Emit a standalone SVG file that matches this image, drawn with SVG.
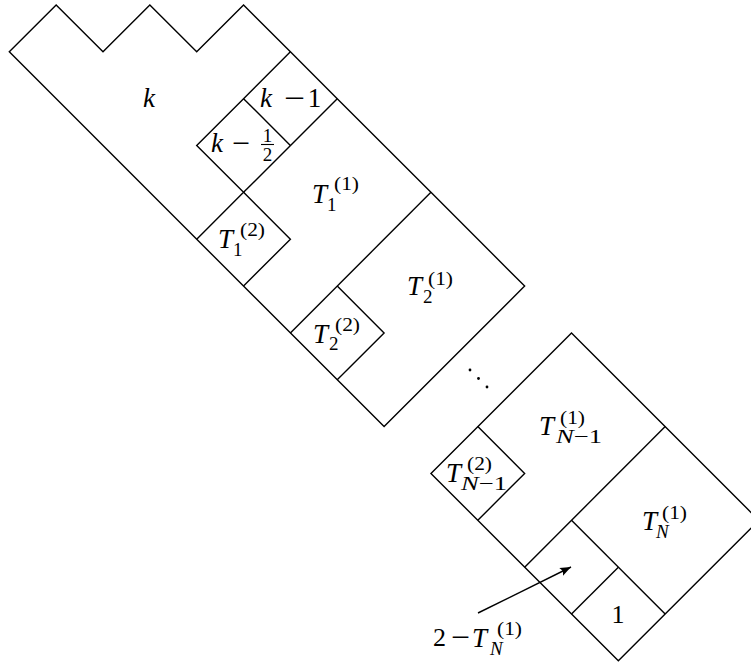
<svg xmlns="http://www.w3.org/2000/svg" width="751" height="665" viewBox="0 0 751 665">
<style>
.ln{fill:none;stroke:#000;stroke-width:1.4;stroke-linejoin:miter}
</style>
<defs>
<marker id="ah" markerUnits="userSpaceOnUse" markerWidth="14" markerHeight="12" viewBox="-12 -6 14 12" refX="0" refY="0" orient="auto">
<path d="M0,0 L-11,-4.2 Q-8,0 -11,4.2 Z" fill="#000"/>
</marker>
</defs>
<rect width="751" height="665" fill="#fff"/>
<g id="block1">
<path class="ln" d="M9.3,51.8 L56.15,4.95 L103,51.8 L149.85,4.95 L196.7,51.8 L243.55,4.95 L290.4,51.8 L337.25,98.65 L430.95,192.35 L524.65,286.05 L384.1,426.6 Z"/>
<path class="ln" d="M290.4,51.8 L243.55,98.65 L196.7,145.5 L243.55,192.35 L196.7,239.2"/>
<path class="ln" d="M337.25,98.65 L243.55,192.35"/>
<path class="ln" d="M243.55,98.65 L290.4,145.5"/>
<path class="ln" d="M243.55,192.35 L290.4,239.2 L243.55,286.05"/>
<path class="ln" d="M430.95,192.35 L290.4,332.9"/>
<path class="ln" d="M337.25,286.05 L384.1,332.9 L337.25,379.75"/>
</g>
<g id="block2">
<path class="ln" d="M571.5,332.9 L758.9,520.3 L618.35,660.85 L430.95,473.45 Z"/>
<path class="ln" d="M477.8,426.6 L524.65,473.45 L477.8,520.3"/>
<path class="ln" d="M665.2,426.6 L524.65,567.15"/>
<path class="ln" d="M571.5,520.3 L665.2,614"/>
<path class="ln" d="M618.35,567.15 L571.5,614"/>
</g>
<g id="ddots" fill="#000">
<circle cx="470" cy="370" r="1.4"/>
<circle cx="478.5" cy="378.5" r="1.4"/>
<circle cx="487" cy="387" r="1.4"/>
</g>
<g id="connectors">
<path class="ln" d="M478,613 L571,567" marker-end="url(#ah)"/>
</g>
<g id="labels" font-family="Liberation Serif, DejaVu Serif, serif" fill="#000">
<g id="label-k" font-size="27"><text font-style="italic" x="143" y="107">k</text></g>
<g id="label-k-1" font-size="27">
<text font-style="italic" x="260" y="107">k</text>
<text x="284" y="107" textLength="21" lengthAdjust="spacingAndGlyphs">−</text>
<text x="314.5" y="107" text-anchor="middle">1</text>
</g>
<g id="label-k-half">
<text font-size="27" font-style="italic" x="211" y="152">k</text>
<text font-size="27" x="232" y="152" textLength="18" lengthAdjust="spacingAndGlyphs">−</text>
<text font-size="19" x="267.5" y="142" text-anchor="middle">1</text>
<line x1="261" y1="144.5" x2="274" y2="144.5" stroke="#000" stroke-width="1.1"/>
<text font-size="19" x="267.5" y="161" text-anchor="middle">2</text>
</g>
<g id="label-T1-1">
<text font-size="27" font-style="italic" x="312" y="203">T</text>
<text font-size="19" x="327" y="211">1</text>
<text font-size="19" x="334" y="190" textLength="25" lengthAdjust="spacingAndGlyphs">(1)</text>
</g>
<g id="label-T1-2">
<text font-size="27" font-style="italic" x="218" y="248">T</text>
<text font-size="19" x="233" y="256">1</text>
<text font-size="19" x="240" y="236" textLength="25" lengthAdjust="spacingAndGlyphs">(2)</text>
</g>
<g id="label-T2-1">
<text font-size="27" font-style="italic" x="407" y="295">T</text>
<text font-size="19" x="423" y="303">2</text>
<text font-size="19" x="428" y="285" textLength="25" lengthAdjust="spacingAndGlyphs">(1)</text>
</g>
<g id="label-T2-2">
<text font-size="27" font-style="italic" x="313" y="343">T</text>
<text font-size="19" x="329" y="350">2</text>
<text font-size="19" x="335" y="331" textLength="25" lengthAdjust="spacingAndGlyphs">(2)</text>
</g>
<g id="label-TN1-1">
<text font-size="27" font-style="italic" x="539" y="435">T</text>
<text font-size="19" x="556" y="443" textLength="46" lengthAdjust="spacingAndGlyphs"><tspan font-style="italic">N</tspan>−1</text>
<text font-size="19" x="560" y="424" textLength="25" lengthAdjust="spacingAndGlyphs">(1)</text>
</g>
<g id="label-TN1-2">
<text font-size="27" font-style="italic" x="446" y="482">T</text>
<text font-size="19" x="461" y="490" textLength="46" lengthAdjust="spacingAndGlyphs"><tspan font-style="italic">N</tspan>−1</text>
<text font-size="19" x="467" y="470" textLength="25" lengthAdjust="spacingAndGlyphs">(2)</text>
</g>
<g id="label-TN-1">
<text font-size="27" font-style="italic" x="642" y="530">T</text>
<text font-size="19" font-style="italic" x="656" y="538">N</text>
<text font-size="19" x="662" y="519" textLength="25" lengthAdjust="spacingAndGlyphs">(1)</text>
</g>
<g id="label-one"><text font-size="26" x="618" y="623" text-anchor="middle">1</text></g>
<g id="label-2-TN">
<text font-size="26" x="433" y="646">2</text>
<text font-size="27" x="451" y="646" textLength="19" lengthAdjust="spacingAndGlyphs">−</text>
<text font-size="27" font-style="italic" x="472" y="647">T</text>
<text font-size="19" font-style="italic" x="490" y="655">N</text>
<text font-size="19" x="497" y="635" textLength="25" lengthAdjust="spacingAndGlyphs">(1)</text>
</g>
</g>
</svg>
